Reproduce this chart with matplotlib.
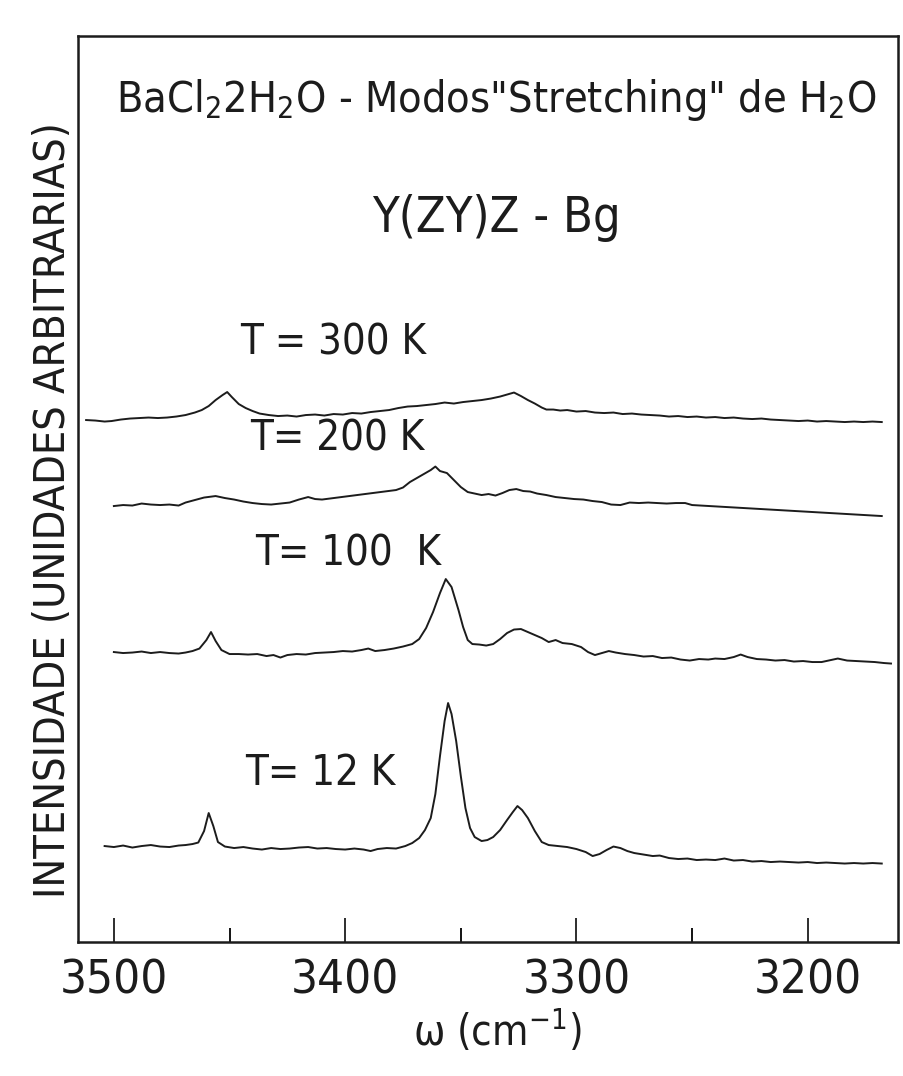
import matplotlib
matplotlib.use('Agg')
import matplotlib.pyplot as plt
import numpy as np

# spectra: wavenumber (cm-1) and intensity above each
# trace's own baseline (arbitrary units)
wn_12 = [3504, 3500, 3496, 3492, 3488, 3484, 3480, 3476, 3472, 3469, 3466,
         3463.5, 3461, 3459, 3457, 3455, 3452, 3448, 3444, 3440, 3436, 3432,
         3428, 3424, 3420, 3416, 3412, 3408, 3404, 3400, 3396, 3392, 3389,
         3386, 3382, 3378, 3374, 3371, 3368, 3365.5, 3363, 3361, 3359, 3357,
         3355.5, 3354, 3352, 3350, 3348, 3346, 3344, 3341, 3338.5, 3336,
         3333, 3330, 3327.5, 3325.5, 3323.5, 3321, 3318, 3315, 3312, 3308,
         3304, 3300, 3296, 3293, 3290, 3287, 3284, 3281, 3278, 3275, 3271,
         3267, 3264, 3260, 3256, 3252, 3248, 3244, 3240, 3236, 3232, 3228,
         3224, 3220, 3216, 3212, 3208, 3204, 3200, 3196, 3192, 3188, 3184,
         3180, 3176, 3172, 3168]
int_12 = [0.0, -0.1, 0.05, -0.15, 0.0, 0.1, -0.05, -0.1, 0.05, 0.1, 0.2,
          0.35, 1.5, 3.3, 2.0, 0.4, -0.05, -0.2, -0.1, -0.25, -0.35, -0.2,
          -0.3, -0.25, -0.15, -0.1, -0.25, -0.2, -0.3, -0.35, -0.25, -0.35, -0.5,
          -0.3, -0.2, -0.25, 0.0, 0.3, 0.8, 1.6, 2.8, 5.2, 9.0, 12.5,
          14.3, 13.2, 10.5, 7.0, 3.8, 1.8, 0.9, 0.5, 0.6, 0.9,
          1.6, 2.6, 3.4, 4.0, 3.6, 2.8, 1.5, 0.4, 0.1, 0.0,
          -0.1, -0.3, -0.6, -1.0, -0.8, -0.4, -0.05, -0.2, -0.5, -0.7, -0.85,
          -1.0, -0.95, -1.2, -1.3, -1.25, -1.4, -1.35, -1.4, -1.25, -1.45, -1.4,
          -1.55, -1.5, -1.6, -1.55, -1.6, -1.65, -1.6, -1.7, -1.65, -1.7, -1.75,
          -1.7, -1.75, -1.7, -1.75]

wn_100 = [3500, 3496, 3492, 3488, 3484, 3480, 3476, 3472, 3469, 3466, 3463,
          3460, 3458, 3456, 3453.5, 3450, 3446, 3442, 3438, 3434, 3431, 3428,
          3425, 3421, 3417, 3413, 3409, 3405, 3401, 3397, 3393, 3390, 3387,
          3383, 3379, 3375, 3371, 3368, 3365, 3362, 3359, 3356.5, 3354, 3351,
          3349, 3347, 3345, 3342, 3339, 3336, 3333, 3330, 3327, 3324, 3321,
          3318, 3315, 3312, 3309, 3306, 3302, 3298, 3295, 3292, 3289, 3286,
          3283, 3279, 3275, 3271, 3267, 3263, 3259, 3255, 3251, 3247, 3243,
          3240, 3236, 3232, 3229, 3226, 3222, 3218, 3214, 3210, 3206, 3202,
          3198, 3194, 3190, 3187, 3183, 3179, 3175, 3171, 3167, 3164]
int_100 = [0.0, -0.1, -0.05, 0.05, -0.1, 0.0, -0.1, -0.15, -0.05, 0.1, 0.35,
           1.2, 2.0, 1.1, 0.2, -0.2, -0.2, -0.25, -0.2, -0.4, -0.3, -0.55,
           -0.3, -0.2, -0.25, -0.1, -0.05, 0.0, 0.1, 0.05, 0.2, 0.35, 0.1,
           0.2, 0.35, 0.55, 0.8, 1.3, 2.4, 4.0, 5.9, 7.3, 6.5, 4.2,
           2.5, 1.2, 0.8, 0.75, 0.65, 0.8, 1.3, 1.9, 2.25, 2.3, 2.0,
           1.7, 1.4, 1.0, 1.2, 0.9, 0.8, 0.5, 0.0, -0.3, -0.1, 0.1,
           -0.05, -0.2, -0.3, -0.45, -0.4, -0.6, -0.55, -0.75, -0.85, -0.7, -0.75,
           -0.65, -0.7, -0.5, -0.25, -0.5, -0.7, -0.75, -0.85, -0.8, -0.95, -0.9,
           -1.0, -1.0, -0.8, -0.65, -0.85, -0.9, -0.95, -1.0, -1.1, -1.15]

wn_200 = [3500, 3496, 3492, 3488, 3484, 3480, 3476, 3472, 3469, 3465, 3461,
          3456, 3452, 3448, 3444, 3440, 3436, 3432, 3428, 3424, 3420, 3416,
          3413, 3410, 3378, 3375, 3372, 3369, 3366, 3363, 3361, 3359, 3356,
          3353, 3350, 3347, 3344, 3341, 3338, 3335, 3332, 3329, 3326, 3323,
          3320, 3317, 3313, 3309, 3305, 3301, 3297, 3293, 3289, 3285, 3281,
          3277, 3273, 3269, 3265, 3261, 3257, 3253, 3250, 3168]
int_200 = [-0.1, 0.0, -0.05, 0.15, 0.05, 0.0, 0.05, -0.05, 0.25, 0.5, 0.75,
           0.9, 0.7, 0.55, 0.35, 0.2, 0.1, 0.05, 0.15, 0.25, 0.55, 0.8,
           0.6, 0.55, 1.5, 1.75, 2.3, 2.7, 3.1, 3.5, 3.85, 3.4, 3.2,
           2.5, 1.8, 1.3, 1.15, 1.0, 1.1, 0.95, 1.2, 1.5, 1.6, 1.4,
           1.35, 1.15, 1.0, 0.8, 0.7, 0.6, 0.55, 0.4, 0.3, 0.05, 0.0,
           0.25, 0.2, 0.25, 0.2, 0.15, 0.2, 0.2, 0.0, -1.1]

wn_300 = [3512, 3508, 3504, 3501, 3497, 3493, 3489, 3485, 3481, 3477, 3473,
          3469, 3465, 3462, 3459, 3456, 3453, 3451, 3449, 3446, 3443, 3440,
          3437, 3433, 3429, 3425, 3421, 3417, 3413, 3409, 3405, 3401, 3397,
          3393, 3389, 3385, 3381, 3377, 3373, 3369, 3365, 3361, 3357, 3353,
          3349, 3345, 3341, 3337, 3333, 3330, 3327, 3324, 3321, 3318, 3315,
          3313, 3310, 3307, 3304, 3300, 3296, 3292, 3288, 3284, 3280, 3276,
          3272, 3268, 3264, 3260, 3256, 3252, 3248, 3244, 3240, 3236, 3232,
          3228, 3224, 3220, 3216, 3212, 3208, 3204, 3200, 3196, 3192, 3188,
          3184, 3180, 3176, 3172, 3168]
int_300 = [0.0, -0.05, -0.15, -0.1, 0.05, 0.15, 0.2, 0.25, 0.2, 0.25, 0.35,
           0.5, 0.75, 1.0, 1.4, 2.0, 2.5, 2.8, 2.3, 1.6, 1.2, 0.9,
           0.65, 0.5, 0.4, 0.45, 0.35, 0.5, 0.55, 0.45, 0.6, 0.55, 0.7,
           0.65, 0.8, 0.9, 1.0, 1.2, 1.35, 1.4, 1.5, 1.6, 1.75, 1.65,
           1.8, 1.9, 2.0, 2.15, 2.35, 2.55, 2.75, 2.4, 2.0, 1.65, 1.25,
           1.05, 1.05, 0.95, 1.0, 0.85, 0.9, 0.75, 0.7, 0.75, 0.6, 0.65,
           0.55, 0.5, 0.45, 0.35, 0.4, 0.3, 0.35, 0.25, 0.3, 0.2, 0.25,
           0.15, 0.1, 0.15, 0.05, 0.0, -0.05, -0.1, -0.05, -0.15, -0.1, -0.15,
           -0.2, -0.15, -0.2, -0.15, -0.2]

# vertical shift of each trace on the chart
baselines = [9.6, 29.0, 43.7, 52.2]
temp_labels = ['T= 12 K', 'T= 100  K', 'T= 200 K', 'T = 300 K']

major_ticks = [3500, 3400, 3300, 3200]
minor_ticks = [3450, 3350, 3250]

plt.rcParams['font.family'] = ['DejaVu Sans']
plt.rcParams['font.stretch'] = 'condensed'
plt.rcParams['font.weight'] = 'light'
ink = '#1c1c1c'

fig = plt.figure(figsize=(9.04, 10.76), dpi=100)
ax = fig.add_axes([0.0863, 0.1245, 0.907, 0.842])

spectra = [(wn_12, int_12), (wn_100, int_100), (wn_200, int_200),
           (wn_300, int_300)]
for (wn, inten), base in zip(spectra, baselines):
    ax.plot(wn, np.array(inten) + base, color=ink, lw=1.4)

ax.set_xlim(3515.5, 3161)
ax.set_ylim(0, 90.6)
ax.set_yticks([])
ax.set_xticks(major_ticks)
ax.set_xticks(minor_ticks, minor=True)
ax.tick_params(axis='x', which='major', direction='in', length=17,
               width=1.3, pad=12, labelsize=34, colors=ink)
ax.tick_params(axis='x', which='minor', direction='in', length=10,
               width=1.3)
for sp in ax.spines.values():
    sp.set_linewidth(1.8)
    sp.set_color(ink)

label_pos = [(0.204, 0.173), (0.216, 0.416), (0.210, 0.543), (0.198, 0.648)]
for txt, (x, y) in zip(temp_labels, label_pos):
    ax.text(x, y, txt, transform=ax.transAxes, fontsize=30, color=ink,
            va='baseline')

ax.text(0.51, 0.916, r'BaCl$_2$2H$_2$O - Modos"Stretching" de H$_2$O',
        transform=ax.transAxes, ha='center', va='baseline', fontsize=31,
        color=ink)
ax.text(0.51, 0.784, 'Y(ZY)Z - Bg', transform=ax.transAxes, ha='center',
        va='baseline', fontsize=35, color=ink)
ax.text(0.511, -0.099, r'ω (cm$^{-1}$)', transform=ax.transAxes,
        ha='center', va='center', fontsize=30, color=ink)
ax.text(-0.030, 0.477, 'INTENSIDADE (UNIDADES ARBITRARIAS)',
        transform=ax.transAxes, rotation=90, ha='center', va='center',
        fontsize=31, color=ink)

fig.savefig('out.png', dpi=100, facecolor='white')
